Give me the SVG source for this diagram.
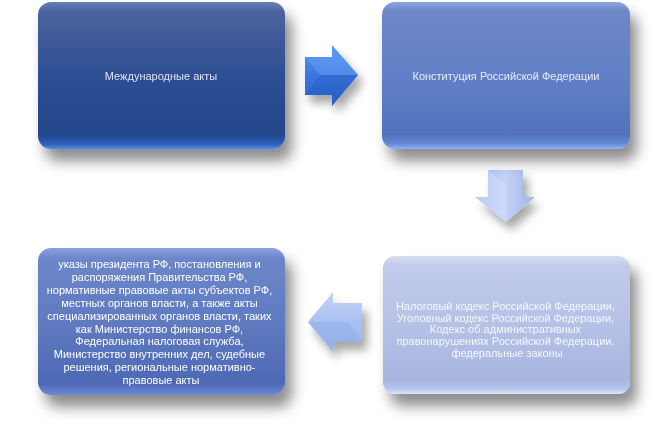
<svg xmlns="http://www.w3.org/2000/svg" width="668" height="429" viewBox="0 0 668 429">
<style>
.t{font-family:"Liberation Sans",Arial,sans-serif;font-size:11px;text-anchor:middle;}
.t1{fill:#dde4f0;}
.t2{fill:#e6ecf8;}
.t3{fill:#ffffff;}
.t4{fill:#f4f7ff;}
</style>
<defs>
<filter id="sh" x="-20%" y="-20%" width="150%" height="160%">
<feDropShadow dx="7" dy="12" stdDeviation="7" flood-color="#000" flood-opacity="0.45"/>
</filter>
<filter id="sha" x="-50%" y="-50%" width="220%" height="220%">
<feDropShadow dx="5" dy="8" stdDeviation="5" flood-color="#000" flood-opacity="0.35"/>
</filter>
<linearGradient id="g1" x1="0" y1="0" x2="0" y2="1">
<stop offset="0" stop-color="#6a80b8"/>
<stop offset="0.06" stop-color="#4c639e"/>
<stop offset="0.5" stop-color="#2d4f93"/>
<stop offset="0.9" stop-color="#22468a"/>
<stop offset="0.965" stop-color="#2d5fbd"/>
<stop offset="1" stop-color="#4f8ce6"/>
</linearGradient>
<linearGradient id="g2" x1="0" y1="0" x2="0" y2="1">
<stop offset="0" stop-color="#8ea4dc"/>
<stop offset="0.06" stop-color="#6e88c8"/>
<stop offset="0.5" stop-color="#6280c6"/>
<stop offset="0.9" stop-color="#5272bd"/>
<stop offset="0.965" stop-color="#6389d8"/>
<stop offset="1" stop-color="#94b2f2"/>
</linearGradient>
<linearGradient id="g3" x1="0" y1="0" x2="0" y2="1">
<stop offset="0" stop-color="#8aa2e0"/>
<stop offset="0.07" stop-color="#6d86c9"/>
<stop offset="0.5" stop-color="#5f7bc1"/>
<stop offset="0.92" stop-color="#4e69b4"/>
<stop offset="1" stop-color="#6a8ad6"/>
</linearGradient>
<linearGradient id="g4" x1="0" y1="0" x2="0" y2="1">
<stop offset="0" stop-color="#d6dcf2"/>
<stop offset="0.07" stop-color="#c2cbea"/>
<stop offset="0.5" stop-color="#b6c1e6"/>
<stop offset="0.9" stop-color="#a7b5e0"/>
<stop offset="0.965" stop-color="#b8c7ee"/>
<stop offset="1" stop-color="#dde6fa"/>
</linearGradient>
<linearGradient id="ga1" x1="0" y1="0" x2="0" y2="1">
<stop offset="0" stop-color="#5a94f0"/>
<stop offset="0.5" stop-color="#3a76e0"/>
<stop offset="1" stop-color="#2a62cc"/>
</linearGradient>
<linearGradient id="ga2" x1="0" y1="0" x2="1" y2="0">
<stop offset="0" stop-color="#a4b8ee"/>
<stop offset="0.5" stop-color="#c4d2f6"/>
<stop offset="1" stop-color="#9fb4ea"/>
</linearGradient>
<linearGradient id="ga3" x1="0" y1="0" x2="0" y2="1">
<stop offset="0" stop-color="#c4d4f8"/>
<stop offset="0.5" stop-color="#a9c0f2"/>
<stop offset="1" stop-color="#9fb6ec"/>
</linearGradient>
</defs>

<g id="connectors">
<g id="arrow-right" filter="url(#sha)">
<path d="M305,57 L332,57 L332,45 L358,75 L332,106 L332,95 L305,95 Z" fill="url(#ga1)"/>
<path d="M305,57 L332,57 L332,45 L358,75 L332,75 L320,75 Z" fill="#6aa4f6" opacity="0.45"/>
<path d="M305,95 L332,95 L332,106 L358,75 L332,75 L320,75 Z" fill="#1a4fb0" opacity="0.25"/>
</g>
<g id="arrow-down" filter="url(#sha)">
<path d="M488,170 L523,170 L523,197 L535,197 L506,222 L475,197 L488,197 Z" fill="url(#ga2)"/>
<path d="M488,170 L506,184 L506,222 L475,197 L488,197 Z" fill="#e0e8fc" opacity="0.35"/>
</g>
<g id="arrow-left" filter="url(#sha)">
<path d="M362,303 L333,303 L333,292 L308,322 L333,352 L333,342 L362,342 Z" fill="url(#ga3)"/>
<path d="M362,342 L333,342 L333,352 L308,322 L348,322 Z" fill="#8aa4e4" opacity="0.35"/>
</g>
</g>

<g id="node-international" filter="url(#sh)">
<rect x="38" y="2" width="247" height="147" rx="13" fill="url(#g1)"/>
<text class="t t1" x="161" y="80">Международные акты</text>
</g>

<g id="node-constitution" filter="url(#sh)">
<rect x="382" y="2" width="248" height="147" rx="13" fill="url(#g2)"/>
<text class="t t2" x="506" y="80">Конституция Российской Федерации</text>
</g>

<g id="node-codes" filter="url(#sh)">
<rect x="383" y="256" width="247" height="138" rx="12" fill="url(#g4)"/>
<text class="t t4" x="507" y="310">
<tspan x="507" dy="0">Налоговый кодекс Российской Федерации,</tspan>
<tspan x="507" dy="11.7">Уголовный кодекс Российской Федерации,</tspan>
<tspan x="507" dy="11.7">Кодекс об административных</tspan>
<tspan x="507" dy="11.7">правонарушениях Российской Федерации.</tspan>
<tspan x="507" dy="11.7">федеральные законы</tspan>
</text>
</g>

<g id="node-acts" filter="url(#sh)">
<rect x="38" y="248" width="247" height="147" rx="13" fill="url(#g3)"/>
<text class="t t3" x="161" y="268">
<tspan x="161" dy="0">указы президента РФ, постановления и</tspan>
<tspan x="161" dy="12.9">распоряжения Правительства РФ,</tspan>
<tspan x="161" dy="12.9">нормативные правовые акты субъектов РФ,</tspan>
<tspan x="161" dy="12.9">местных органов власти, а также акты</tspan>
<tspan x="161" dy="12.9">специализированных органов власти, таких</tspan>
<tspan x="161" dy="12.9">как Министерство финансов РФ,</tspan>
<tspan x="161" dy="12.9">Федеральная налоговая служба,</tspan>
<tspan x="161" dy="12.9">Министерство внутренних дел, судебные</tspan>
<tspan x="161" dy="12.9">решения, региональные  нормативно-</tspan>
<tspan x="161" dy="12.9">правовые акты</tspan>
</text>
</g>
</svg>
